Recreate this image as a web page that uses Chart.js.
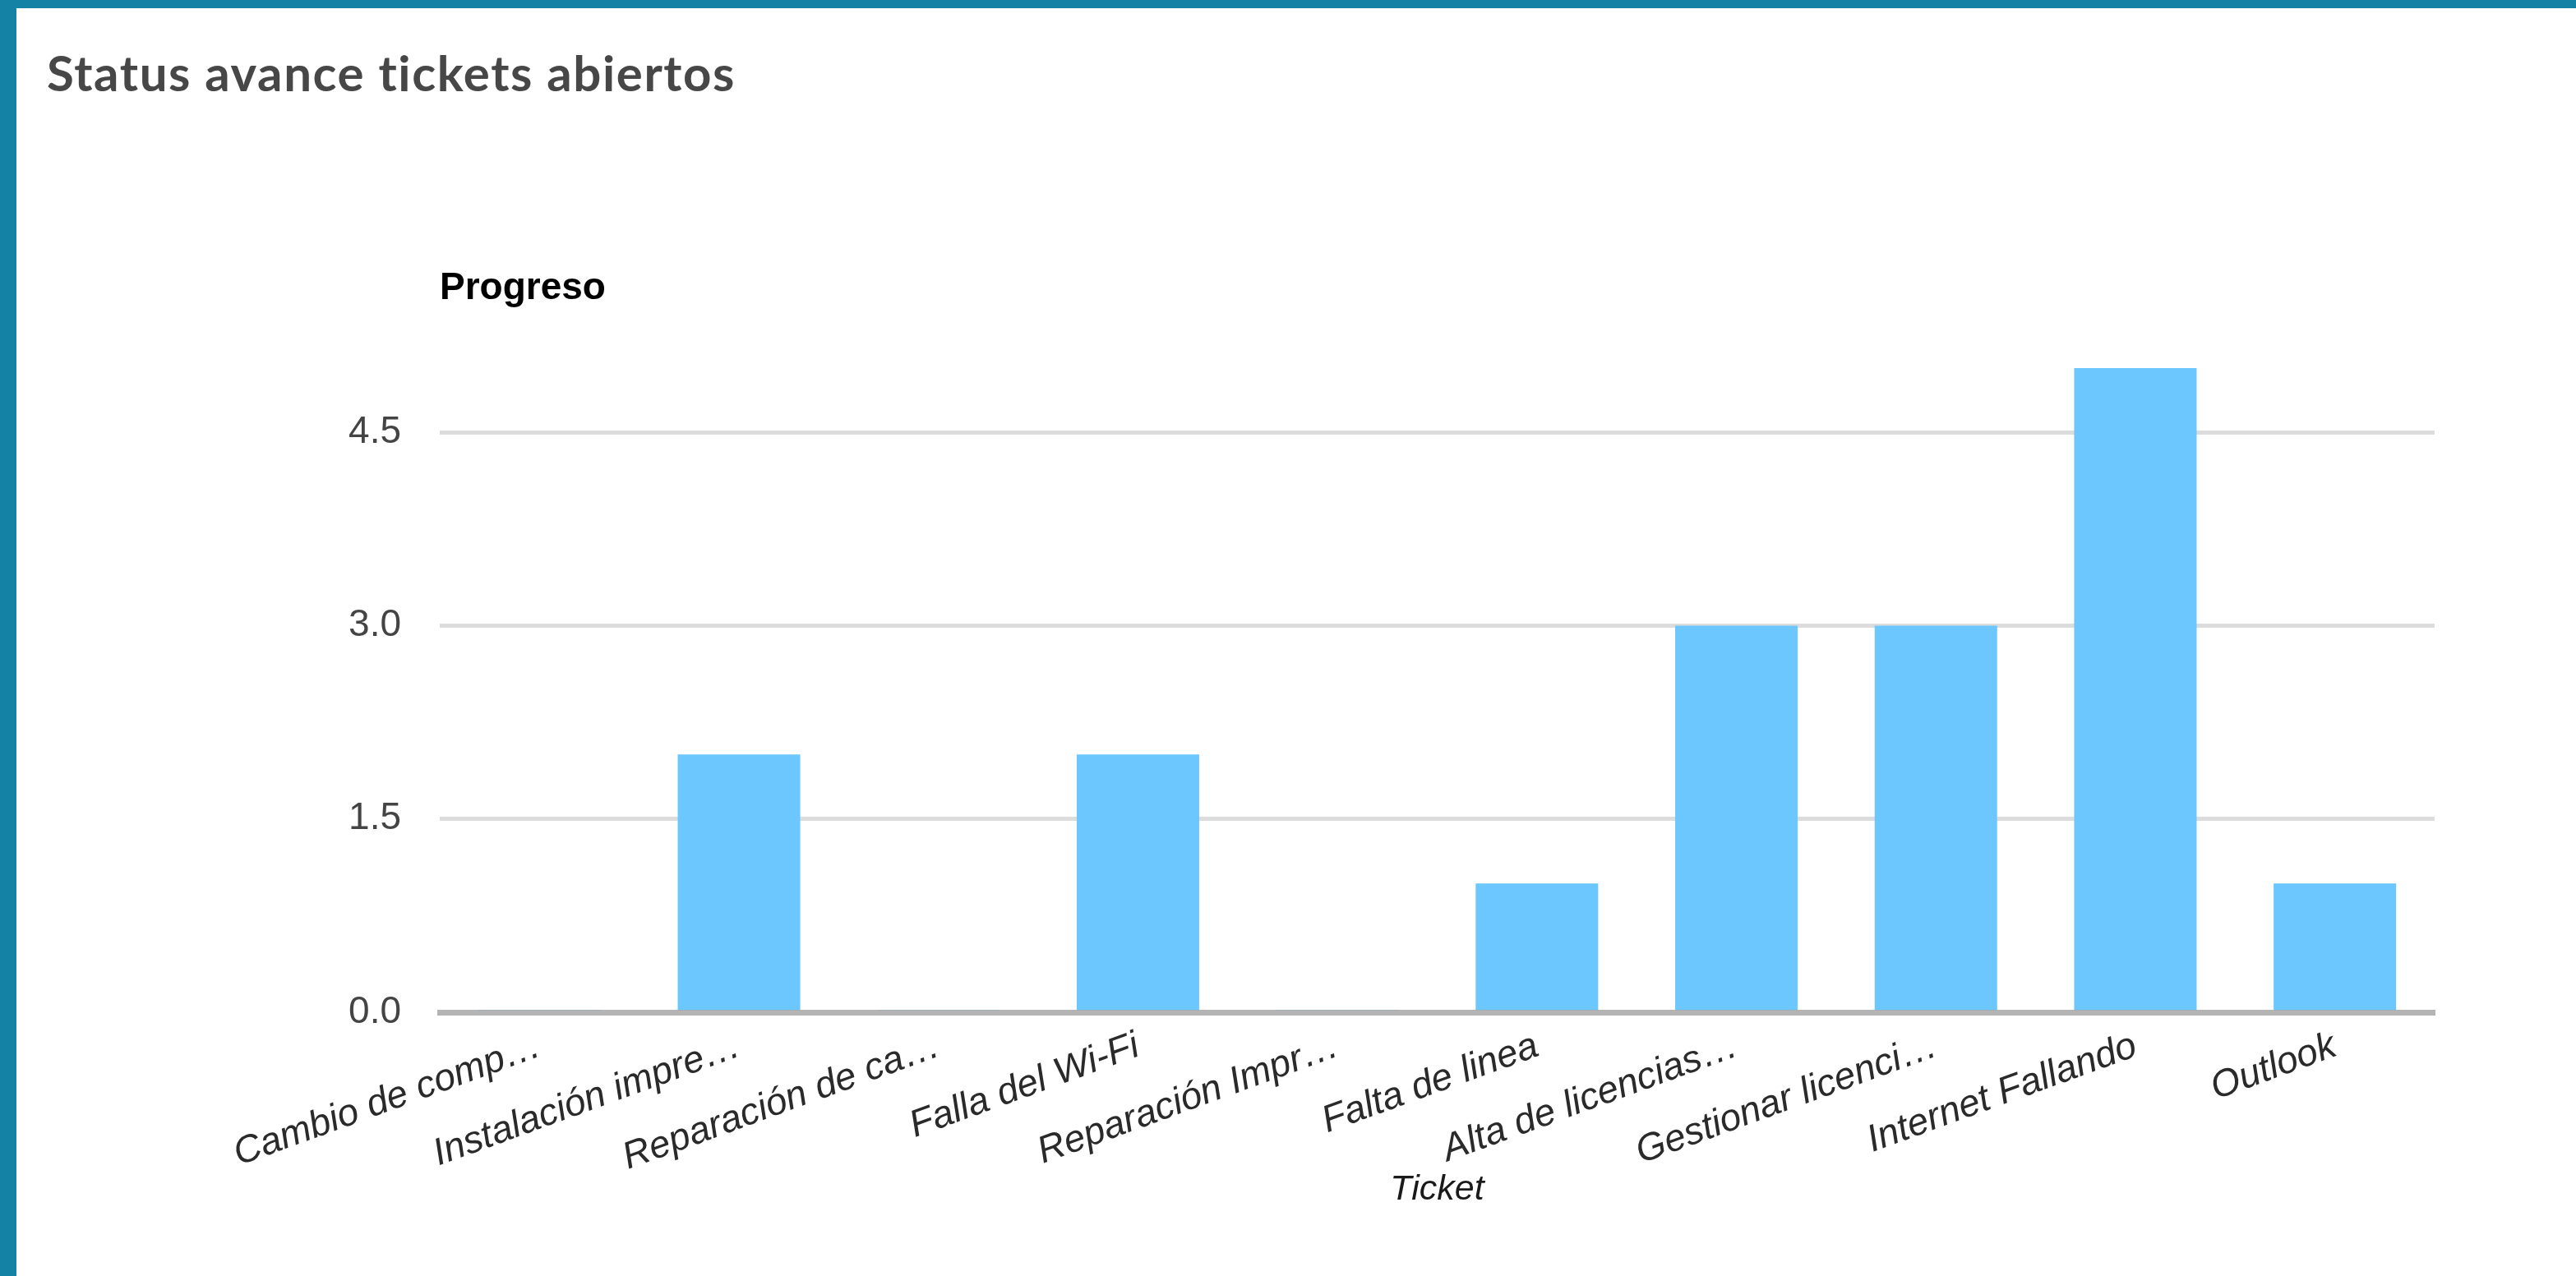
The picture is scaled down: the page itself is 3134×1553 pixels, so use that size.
<!DOCTYPE html>
<html lang="es">
<head>
  <meta charset="UTF-8">
  <title>Status avance tickets abiertos</title>
  <style>
    html, body {
      margin: 0;
      padding: 0;
      background: #ffffff;
      width: 3134px;
      height: 1553px;
      overflow: hidden;
    }

    #frame {
      position: absolute;
      left: 0;
      top: 0;
      width: 3134px;
      height: 1553px;
      box-sizing: border-box;
      border-top: 10px solid #1382a4;
      border-left: 20px solid #1382a4;
    }

    .chart-title {
      position: absolute;
      left: 57px;
      top: 58px;
      margin: 0;
      font-family: Lato, "Open Sans", sans-serif;
      font-weight: 700;
      font-size: 60px;
      line-height: 60px;
      letter-spacing: 1.6px;
      color: #474747;
      z-index: 2;
    }

    #myChart {
      position: absolute;
      left: 0;
      top: 0;
    }
  </style>
</head>
<body>
  <div id="frame"></div>
  <h1 class="chart-title">Status avance tickets abiertos</h1>
  <canvas id="myChart" width="3134" height="1553"></canvas>

  <script src="https://cdn.jsdelivr.net/npm/chart.js"></script>
  <script>
const categories = [
  'Cambio de comp…',
  'Instalación impre…',
  'Reparación de ca…',
  'Falla del Wi-Fi',
  'Reparación Impr…',
  'Falta de linea',
  'Alta de licencias…',
  'Gestionar licenci…',
  'Internet Fallando',
  'Outlook'
];
const progreso = [0, 2, 0, 2, 0, 1, 3, 3, 5, 1];
const yTicks = [0, 1.5, 3.0, 4.5];

Chart.defaults.font.family = '"Liberation Sans", Arial, sans-serif';

let chart;

function drawChart() {
  const ctx = document.getElementById('myChart').getContext('2d');

  chart = new Chart(ctx, {
    type: 'bar',
    data: {
      labels: categories,
      datasets: [{
        label: 'Progreso',
        data: progreso,
        backgroundColor: '#6bc7fe',
        borderWidth: 0,
        minBarLength: 3,
        categoryPercentage: 1.0,
        barPercentage: 0.614
      }]
    },
    options: {
      responsive: false,
      animation: false,
      layout: {
        padding: { left: 0, right: 172, top: 0, bottom: 0 }
      },
      plugins: {
        legend: { display: false },
        tooltip: { enabled: false },
        title: {
          display: true,
          text: 'Progreso',
          align: 'start',
          fullSize: false,
          color: '#000000',
          font: { size: 46, weight: 'bold' },
          padding: { top: 324, bottom: 6 }
        }
      },
      scales: {
        x: {
          grid: { display: false },
          border: {
            display: true,
            color: 'rgba(155,155,155,0.75)',
            width: 7,
            z: 1
          },
          ticks: {
            autoSkip: false,
            maxRotation: 20,
            minRotation: 20,
            padding: 6,
            color: '#2a2a2a',
            font: { size: 46, style: 'italic' }
          },
          title: {
            display: true,
            text: 'Ticket',
            color: '#1a1a1a',
            font: { size: 43, style: 'italic' },
            padding: { top: 0, bottom: 79 }
          },
          afterFit: (scale) => { scale.height = 321; }
        },
        y: {
          min: 0,
          max: 5.4,
          border: { display: false },
          grid: {
            drawTicks: false,
            lineWidth: 5,
            color: (c) => c.tick && c.tick.value === 0 ? 'rgba(0,0,0,0)' : '#dcdcdc'
          },
          ticks: {
            padding: 47,
            color: '#444444',
            font: { size: 46 },
            callback: (v) => Number(v).toFixed(1)
          },
          afterBuildTicks: (scale) => {
            scale.ticks = yTicks.map(v => ({ value: v }));
          },
          afterFit: (scale) => { scale.width = 535; }
        }
      }
    }
  });
}

drawChart();
  </script>
</body>
</html>
